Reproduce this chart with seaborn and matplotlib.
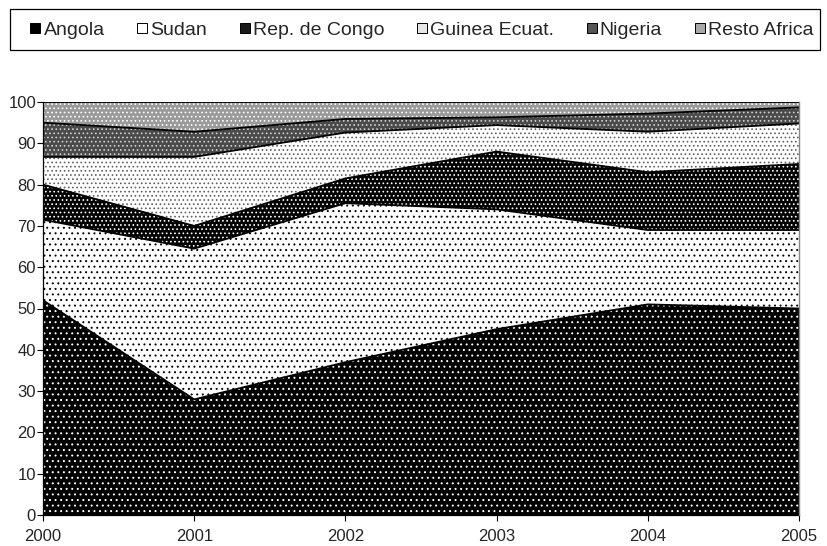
import numpy as np
import pandas as pd
import matplotlib
matplotlib.use("Agg")
import matplotlib.pyplot as plt
from matplotlib.lines import Line2D
from matplotlib.patches import Rectangle
import seaborn as sns

years = [2000, 2001, 2002, 2003, 2004, 2005]
series = ["Angola", "Sudan", "Rep. de Congo", "Guinea Ecuat.", "Nigeria", "Resto Africa"]
angola = [52.0, 28.0, 37.0, 45.0, 51.0, 50.0]
sudan = [19.5, 36.5, 38.5, 29.0, 18.0, 19.0]
congo = [8.5, 5.5, 6.0, 14.0, 14.0, 16.0]
guinea = [6.7, 16.7, 11.1, 6.4, 9.8, 9.8]
nigeria = [8.3, 6.1, 3.3, 1.9, 4.4, 3.9]
resto = [5.0, 7.2, 4.1, 3.7, 2.8, 1.3]
yticks = list(range(0, 101, 10))

sns.set_style("white")
plt.rcParams["font.family"] = ["Liberation Sans", "DejaVu Sans"]
plt.rcParams["hatch.linewidth"] = 0.7

# face colour, dot colour and hatch density for each band
styles = {
    "Angola": ("#000000", "#ffffff", "..."),
    "Sudan": ("#ffffff", "#000000", "..."),
    "Rep. de Congo": ("#000000", "#ffffff", "...."),
    "Guinea Ecuat.": ("#ffffff", "#606060", "...."),
    "Nigeria": ("#4a4a4a", "#d0d0d0", "...."),
    "Resto Africa": ("#9a9a9a", "#ffffff", "...."),
}
# legend swatch colours (small squares read as the band's overall tone)
swatch = {
    "Angola": "#000000",
    "Sudan": "#ffffff",
    "Rep. de Congo": "#1a1a1a",
    "Guinea Ecuat.": "#e6e6e6",
    "Nigeria": "#555555",
    "Resto Africa": "#a8a8a8",
}

df = pd.DataFrame({"year": years, "Angola": angola, "Sudan": sudan,
                   "Rep. de Congo": congo, "Guinea Ecuat.": guinea,
                   "Nigeria": nigeria, "Resto Africa": resto})
cum = df[series].cumsum(axis=1)

W, H = 828, 546
fig = plt.figure(figsize=(W / 100, H / 100), dpi=100)
ax = fig.add_axes([43 / W, 1 - 515 / H, (799 - 43) / W, (515 - 102) / H])

lower = np.zeros(len(years))
for name in series:
    upper = cum[name].to_numpy()
    face, dot, hatch = styles[name]
    ax.fill_between(df["year"], lower, upper, facecolor=face, edgecolor=dot,
                    hatch=hatch, linewidth=0, zorder=1)
    lower = upper

# band boundaries
for name in series:
    sns.lineplot(x=df["year"], y=cum[name], ax=ax, color="black", linewidth=1.3,
                 zorder=2, legend=False)

ax.set_xlim(2000, 2005)
ax.set_ylim(0, 100)
ax.set_xticks(years)
ax.set_yticks(yticks)
ax.set_xlabel("")
ax.set_ylabel("")
ax.tick_params(axis="both", labelsize=12, length=4, width=0.8, color="black",
               direction="out", left=True, bottom=True)
ax.tick_params(axis="x", pad=6)
ax.tick_params(axis="y", pad=1)
ax.spines["top"].set_visible(False)
ax.spines["right"].set_color("#888888")
ax.spines["right"].set_linewidth(1.0)
for s in ["left", "bottom"]:
    ax.spines[s].set_color("black")
    ax.spines[s].set_linewidth(0.9)
ax.spines["right"].set_zorder(3)

# legend in a framed strip along the top
fig.patches.append(Rectangle((10 / W, 1 - 50 / H), (820 - 10) / W, 41 / H,
                             transform=fig.transFigure, facecolor="white",
                             edgecolor="black", linewidth=0.9))
handles = [Line2D([], [], linestyle="none", marker="s", markersize=6.5,
                  markerfacecolor=swatch[n], markeredgecolor="black",
                  markeredgewidth=0.7) for n in series]
fig.legend(handles, series, loc="center left", bbox_to_anchor=(30 / W, 1 - 30 / H),
           ncol=6, frameon=False, fontsize=14, handlelength=0.55,
           handletextpad=0.15, columnspacing=1.65, borderpad=0, borderaxespad=0)

fig.savefig("out.png", dpi=100)
